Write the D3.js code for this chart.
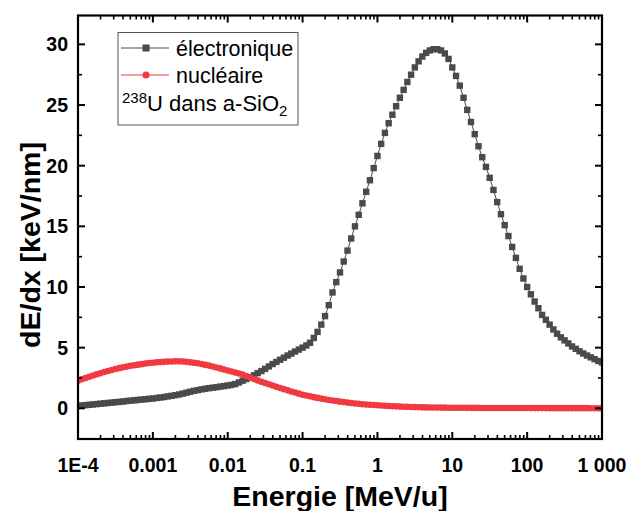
<!DOCTYPE html>
<html>
<head>
<meta charset="utf-8">
<script src="https://cdn.jsdelivr.net/npm/d3@7"></script>
<style>
  html, body { margin: 0; padding: 0; background: #fff; }
  svg { display: block; font-family: "Liberation Sans", Arial, sans-serif; }
</style>
</head>
<body>
<svg id="chart" width="632" height="511"></svg>
<script>
// ---------------- DATA ----------------
const energy = [
  1e-4,1.122e-4,1.259e-4,1.413e-4,1.585e-4,1.778e-4,1.995e-4,2.239e-4,2.512e-4,2.818e-4,3.162e-4,3.548e-4,3.981e-4,4.467e-4,5.012e-4,5.623e-4,6.310e-4,7.079e-4,7.943e-4,8.913e-4,
  1e-3,1.122e-3,1.259e-3,1.413e-3,1.585e-3,1.778e-3,1.995e-3,2.239e-3,2.512e-3,2.818e-3,3.162e-3,3.548e-3,3.981e-3,4.467e-3,5.012e-3,5.623e-3,6.310e-3,7.079e-3,7.943e-3,8.913e-3,
  1e-2,1.122e-2,1.259e-2,1.413e-2,1.585e-2,1.778e-2,1.995e-2,2.239e-2,2.512e-2,2.818e-2,3.162e-2,3.548e-2,3.981e-2,4.467e-2,5.012e-2,5.623e-2,6.310e-2,7.079e-2,7.943e-2,8.913e-2,
  0.1,0.1122,0.1259,0.1413,0.1585,0.1778,0.1995,0.2239,0.2512,0.2818,0.3162,0.3548,0.3981,0.4467,0.5012,0.5623,0.6310,0.7079,0.7943,0.8913,
  1,1.122,1.259,1.413,1.585,1.778,1.995,2.239,2.512,2.818,3.162,3.548,3.981,4.467,5.012,5.623,6.310,7.079,7.943,8.913,
  10,11.22,12.59,14.13,15.85,17.78,19.95,22.39,25.12,28.18,31.62,35.48,39.81,44.67,50.12,56.23,63.10,70.79,79.43,89.13,
  100,112.2,125.9,141.3,158.5,177.8,199.5,223.9,251.2,281.8,316.2,354.8,398.1,446.7,501.2,562.3,631.0,707.9,794.3,891.3,
  1000
];

const electronic = [
  0.20,0.23,0.26,0.29,0.32,0.35,0.38,0.41,0.44,0.47,0.50,0.53,0.56,0.60,0.63,0.66,0.69,0.72,0.75,0.78,
  0.81,0.85,0.89,0.93,0.98,1.03,1.08,1.14,1.21,1.29,1.37,1.44,1.50,1.56,1.61,1.66,1.70,1.74,1.79,1.83,
  1.88,1.93,2.00,2.13,2.28,2.41,2.55,2.72,2.90,3.07,3.25,3.45,3.65,3.82,4.00,4.17,4.35,4.51,4.68,4.84,
  5.00,5.18,5.40,5.80,6.30,6.90,7.60,8.50,9.55,10.4,11.2,12.1,13.0,14.0,15.0,15.95,16.9,17.85,18.8,19.8,
  20.8,21.8,22.7,23.5,24.2,24.9,25.6,26.25,26.9,27.5,28.1,28.6,29.0,29.3,29.5,29.6,29.6,29.5,29.25,28.8,
  28.1,27.4,26.6,25.6,24.6,23.6,22.6,21.6,20.7,19.9,19.0,18.0,17.0,16.0,15.1,14.2,13.3,12.4,11.5,10.7,
  10.0,9.4,8.8,8.25,7.7,7.3,6.9,6.5,6.15,5.85,5.6,5.35,5.1,4.9,4.7,4.52,4.35,4.2,4.05,3.9,
  3.78
];

const nuclear = [
  2.28,2.39,2.49,2.60,2.70,2.80,2.89,2.99,3.08,3.16,3.24,3.31,3.38,3.44,3.50,3.55,3.60,3.64,3.69,3.73,
  3.76,3.79,3.81,3.83,3.85,3.86,3.87,3.87,3.86,3.83,3.79,3.76,3.72,3.65,3.58,3.52,3.45,3.37,3.29,3.20,
  3.12,3.03,2.95,2.87,2.78,2.66,2.54,2.42,2.30,2.19,2.09,1.98,1.88,1.78,1.68,1.58,1.48,1.39,1.30,1.21,
  1.12,1.05,0.99,0.92,0.86,0.80,0.75,0.69,0.64,0.60,0.55,0.51,0.47,0.44,0.40,0.37,0.34,0.32,0.29,0.27,
  0.25,0.23,0.21,0.19,0.17,0.16,0.14,0.13,0.12,0.11,0.10,0.09,0.08,0.075,0.07,0.065,0.06,0.057,0.054,0.052,
  0.05,0.047,0.044,0.041,0.038,0.036,0.034,0.032,0.031,0.030,0.029,0.028,0.027,0.026,0.025,0.024,0.023,0.022,0.021,0.020,
  0.020,0.019,0.018,0.017,0.017,0.016,0.015,0.015,0.014,0.014,0.013,0.013,0.012,0.012,0.011,0.011,0.011,0.010,0.010,0.010,
  0.009
];

const xTickValues = [1e-4, 1e-3, 1e-2, 1e-1, 1, 10, 100, 1000];
const xTickLabels = ["1E-4", "0.001", "0.01", "0.1", "1", "10", "100", "1 000"];
const yTickValues = [0, 5, 10, 15, 20, 25, 30];
const yMinorValues = [2.5, 7.5, 12.5, 17.5, 22.5, 27.5];
const seriesNames = ["électronique", "nucléaire"];
const xTitle = "Energie [MeV/u]";
const yTitle = "dE/dx [keV/nm]";

// ---------------- LAYOUT ----------------
const svg = d3.select("#chart");
const L = 78, R = 602, T = 15.5, B = 439;
const colE = "#4a4a4a", colN = "#f03a3f";

const x = d3.scaleLog().domain([1e-4, 1000]).range([L, R]);
const y = d3.scaleLinear().domain([-2.53, 32.38]).range([B, T]);

const ptsE = energy.map((e, i) => [e, electronic[i]]);
const ptsN = energy.map((e, i) => [e, nuclear[i]]);
const line = d3.line().x(d => x(d[0])).y(d => y(d[1]));

const plot = svg.append("g");
plot.append("clipPath").attr("id", "clip").append("rect")
  .attr("x", L).attr("y", T).attr("width", R - L).attr("height", B - T);
const data = plot.append("g").attr("clip-path", "url(#clip)");

// electronic
data.append("path").datum(ptsE).attr("d", line)
  .attr("fill", "none").attr("stroke", colE).attr("stroke-width", 1);
data.append("g").selectAll("rect").data(ptsE).join("rect")
  .attr("x", d => x(d[0]) - 3.2).attr("y", d => y(d[1]) - 3.2)
  .attr("width", 6.4).attr("height", 6.4).attr("fill", colE);

// nuclear
data.append("path").datum(ptsN).attr("d", line)
  .attr("fill", "none").attr("stroke", colN).attr("stroke-width", 1);
data.append("g").selectAll("circle").data(ptsN).join("circle")
  .attr("cx", d => x(d[0])).attr("cy", d => y(d[1])).attr("r", 3.3).attr("fill", colN);

// ---------------- AXES ----------------
const xMinor = [];
for (let d = -4; d < 3; d++) for (let m = 2; m <= 9; m++) xMinor.push(m * Math.pow(10, d));

const axX = svg.append("g").attr("stroke", "#000").attr("stroke-width", 2);
xTickValues.forEach(v => {
  axX.append("line").attr("x1", x(v)).attr("x2", x(v)).attr("y1", B).attr("y2", B - 7);
  axX.append("line").attr("x1", x(v)).attr("x2", x(v)).attr("y1", T).attr("y2", T + 7);
});
xMinor.forEach(v => {
  axX.append("line").attr("x1", x(v)).attr("x2", x(v)).attr("y1", B).attr("y2", B - 4).attr("stroke-width", 1.6);
  axX.append("line").attr("x1", x(v)).attr("x2", x(v)).attr("y1", T).attr("y2", T + 4).attr("stroke-width", 1.6);
});
yTickValues.forEach(v => {
  axX.append("line").attr("x1", L).attr("x2", L + 7).attr("y1", y(v)).attr("y2", y(v));
  axX.append("line").attr("x1", R).attr("x2", R - 7).attr("y1", y(v)).attr("y2", y(v));
});
yMinorValues.forEach(v => {
  axX.append("line").attr("x1", L).attr("x2", L + 4).attr("y1", y(v)).attr("y2", y(v)).attr("stroke-width", 1.6);
  axX.append("line").attr("x1", R).attr("x2", R - 4).attr("y1", y(v)).attr("y2", y(v)).attr("stroke-width", 1.6);
});
svg.append("rect").attr("x", L).attr("y", T).attr("width", R - L).attr("height", B - T)
  .attr("fill", "none").attr("stroke", "#000").attr("stroke-width", 2.2);

// tick labels
svg.append("g").selectAll("text").data(xTickValues).join("text")
  .attr("x", d => x(d)).attr("y", 472)
  .attr("text-anchor", "middle").attr("font-size", 19.5).attr("font-weight", "bold")
  .text((d, i) => xTickLabels[i]);
svg.append("g").selectAll("text").data(yTickValues).join("text")
  .attr("x", 68).attr("y", d => y(d) + 7)
  .attr("text-anchor", "end").attr("font-size", 19.5).attr("font-weight", "bold")
  .text(d => d);

// titles
svg.append("text").attr("x", (L + R) / 2).attr("y", 506)
  .attr("text-anchor", "middle").attr("font-size", 28.5).attr("font-weight", "bold").text(xTitle);
svg.append("text").attr("transform", "translate(40,245) rotate(-90)")
  .attr("text-anchor", "middle").attr("font-size", 28.5).attr("font-weight", "bold").text(yTitle);

// ---------------- LEGEND ----------------
const lg = svg.append("g");
lg.append("rect").attr("x", 118).attr("y", 32.5).attr("width", 180).attr("height", 92.5)
  .attr("fill", "#fff").attr("stroke", "#555").attr("stroke-width", 1);
lg.append("line").attr("x1", 121).attr("x2", 169).attr("y1", 48).attr("y2", 48).attr("stroke", colE).attr("stroke-width", 1);
lg.append("rect").attr("x", 142.5).attr("y", 44.5).attr("width", 7).attr("height", 7).attr("fill", colE);
lg.append("text").attr("x", 176).attr("y", 55.5).attr("font-size", 21.5).text(seriesNames[0]);
lg.append("line").attr("x1", 121).attr("x2", 169).attr("y1", 75).attr("y2", 75).attr("stroke", colN).attr("stroke-width", 1);
lg.append("circle").attr("cx", 146).attr("cy", 75).attr("r", 3.6).attr("fill", colN);
lg.append("text").attr("x", 176).attr("y", 82.5).attr("font-size", 21.5).text(seriesNames[1]);
const t3 = lg.append("text").attr("x", 122).attr("y", 111).attr("font-size", 22);
t3.append("tspan").attr("font-size", 15).attr("dy", -8).text("238");
t3.append("tspan").attr("dy", 8).text("U dans a-SiO");
t3.append("tspan").attr("font-size", 15).attr("dy", 5).text("2");
</script>
</body>
</html>
